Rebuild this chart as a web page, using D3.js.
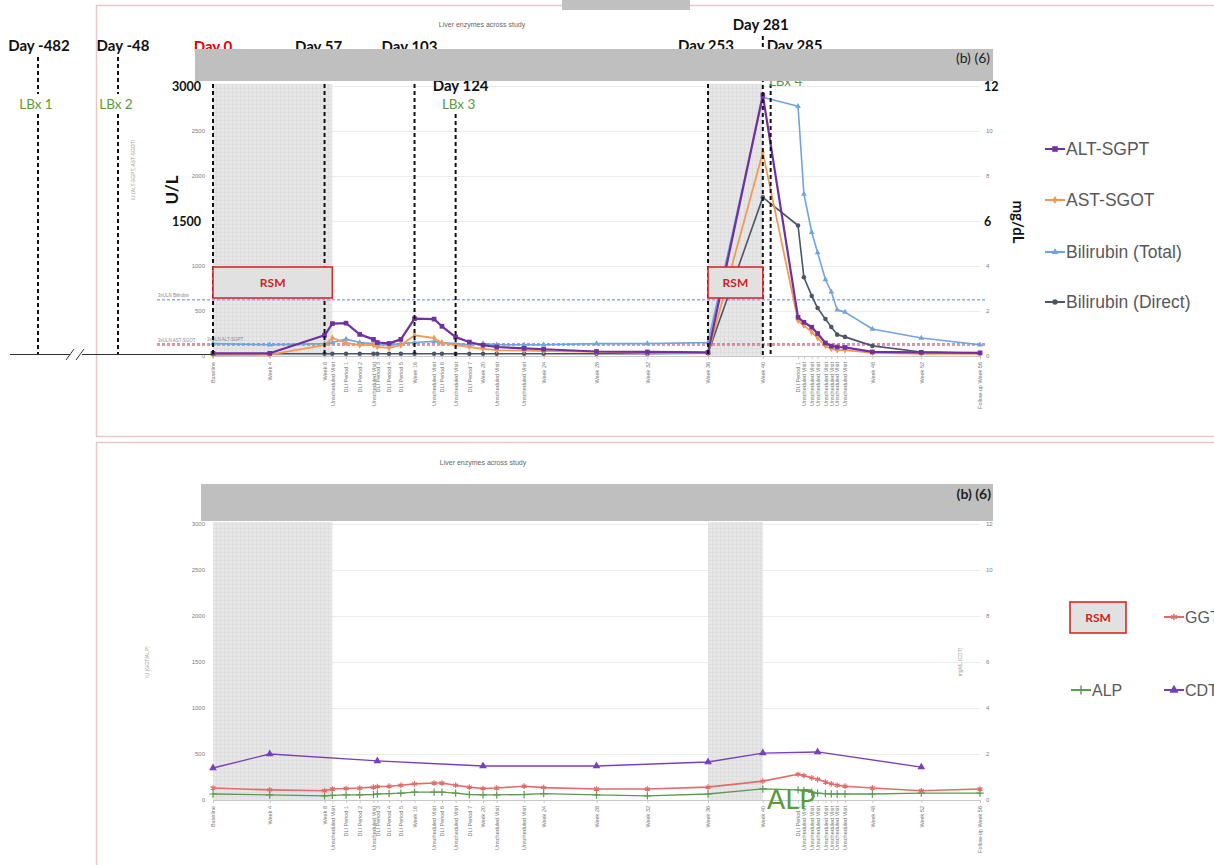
<!DOCTYPE html>
<html>
<head>
<meta charset="utf-8">
<script src="https://cdn.jsdelivr.net/npm/d3@7"></script>
<style>
  body { margin: 0; background: #fff; }
  svg { display: block; }
</style>
</head>
<body>
<svg id="chart" width="1214" height="865"></svg>
<script>
// visits on the x axis (study day of each visit)
const categories = ["Baseline", "Week 4", "Week 8", "Unscheduled Visit", "DLI Period 1", "DLI Period 2",
  "Unscheduled Visit", "DLI Period 3", "DLI Period 4", "DLI Period 5", "Week 16", "Unscheduled Visit",
  "DLI Period 6", "Unscheduled Visit", "DLI Period 7", "Week 20", "Unscheduled Visit", "Unscheduled Visit",
  "Week 24", "Week 28", "Week 32", "Week 36", "Week 40", "DLI Period 1", "Unscheduled Visit",
  "Unscheduled Visit", "Unscheduled Visit", "Unscheduled Visit", "Unscheduled Visit", "Unscheduled Visit",
  "Unscheduled Visit", "Week 48", "Week 52", "Follow-up Week 56"]
const studyDays = [0, 29, 57, 61, 68, 75, 82, 84, 90, 96, 103, 113, 117, 124, 131, 138, 145, 159,
  169, 196, 222, 253, 281, 299, 302, 306, 309, 313, 316, 319, 323, 337, 362, 392]

// top chart: U/L (left) and mg/dL (right)
const altSgpt = [30, 30, 230, 360, 365, 240, 185, 150, 140, 185, 415, 410, 330, 210, 155, 120, 100, 85,
  75, 50, 45, 40, 2900, 430, 375, 320, 250, 145, 110, 100, 95, 45, 40, 35]
const astSgot = [10, 15, 120, 200, 145, 120, 120, 100, 90, 120, 230, 200, 145, 120, 100, 80, 65, 60,
  55, 45, 35, 30, 2260, 395, 340, 265, 200, 110, 80, 65, 65, 35, 25, 25]
const biliTotal = [0.55, 0.5, 0.55, 0.6, 0.75, 0.6, 0.55, 0.5, 0.5, 0.55, 0.6, 0.65, 0.6, 0.55, 0.5,
  0.55, 0.5, 0.5, 0.5, 0.55, 0.55, 0.6, 11.5, 11.1, 7.2, 5.5, 4.6, 3.4, 2.85, 2.05, 1.95, 1.2, 0.8, 0.5]
const biliDirect = [0.1, 0.1, 0.1, 0.1, 0.1, 0.1, 0.1, 0.1, 0.1, 0.1, 0.1, 0.1, 0.1, 0.1, 0.1, 0.1,
  0.1, 0.1, 0.1, 0.1, 0.1, 0.12, 7.05, 5.8, 3.5, 2.67, 2.13, 1.64, 1.29, 0.95, 0.85, 0.45, 0.18, 0.12]

// bottom chart
const ggt = [130, 110, 100, 120, 125, 130, 140, 145, 150, 160, 175, 185, 185, 160, 140, 125, 130, 150,
  135, 120, 120, 140, 205, 280, 265, 240, 225, 195, 175, 160, 150, 130, 100, 120]
const alp = [65, 55, 45, 50, 55, 55, 60, 65, 70, 75, 85, 85, 85, 75, 60, 55, 55, 60,
  70, 55, 45, 65, 120, 110, 100, 85, 75, 70, 65, 65, 65, 65, 75, 75]
const cdt = [1.39, 2.0, null, null, null, null, null, 1.7, null, null, null, null, null, null, null, 1.48,
  null, null, null, 1.48, null, 1.65, 2.04, null, null, null, 2.09, null, null, null, null, null, 1.43, null]

const leftTicks = [0, 500, 1000, 1500, 2000, 2500, 3000]
const rightTicks = [0, 2, 4, 6, 8, 10, 12]
const rsmPeriods = [[0, 61], [253, 281]]
const refLines = [
  { label: "3xULN Bilirubin", value: 2.5, axis: "R", color: "#8fb4e3" },
  { label: "3xULN ALT-SGPT", value: 135, axis: "L", color: "#9a78c4" },
  { label: "3xULN AST-SGOT", value: 120, axis: "L", color: "#df7a7a" }
]
const studyEvents = [
  { label: "Day 0", day: 0, color: "#e00000" },
  { label: "Day 57", day: 57 },
  { label: "Day 103", day: 103 },
  { label: "Day 124", day: 124, lbx: "LBx 3" },
  { label: "Day 253", day: 253 },
  { label: "Day 281", day: 281 },
  { label: "Day 285", day: 285, lbx: "LBx 4" }
]

const svg = d3.select("#chart")
const x = d3.scaleLinear().domain([0, 392]).range([213, 980])
const yTopL = d3.scaleLinear().domain([0, 3000]).range([356, 86])
const yTopR = d3.scaleLinear().domain([0, 12]).range([356, 86])
const yBotL = d3.scaleLinear().domain([0, 3000]).range([800, 524])
const yBotR = d3.scaleLinear().domain([0, 12]).range([800, 524])
const dayLabel = new Map(studyDays.map((d, i) => [d, categories[i]]))

const SANS = "'Liberation Sans', Arial, sans-serif"
const BOLD = "Lato, 'Open Sans', sans-serif"
const green = "#5b9a3c"

// light grid hatch used for the RSM shading
const pat = svg.append("defs").append("pattern").attr("id", "hatch")
  .attr("width", 4).attr("height", 4).attr("patternUnits", "userSpaceOnUse")
pat.append("rect").attr("width", 4).attr("height", 4).attr("fill", "#e7e7e7")
pat.append("path").attr("d", "M0,0.5H4M0.5,0V4").attr("stroke", "#dadada").attr("stroke-width", 0.6)

// panel frames
svg.append("rect").attr("x", 96.5).attr("y", 5.5).attr("width", 1200).attr("height", 431)
  .attr("fill", "none").attr("stroke", "#e8c6ca").attr("stroke-width", 1.5)
svg.append("rect").attr("x", 96.5).attr("y", 442.5).attr("width", 1200).attr("height", 440)
  .attr("fill", "none").attr("stroke", "#e8c6ca").attr("stroke-width", 1.5)

function drawFrame(yL, yR) {
  const g = svg.append("g")
  const [x0, x1] = x.range()
  g.append("g").attr("transform", `translate(${x0},0)`)
    .call(d3.axisLeft(yL).tickValues(leftTicks).tickSize(-(x1 - x0)).tickFormat(""))
    .call(a => a.select(".domain").remove())
    .selectAll("line").attr("stroke", "#ebebeb")

  g.selectAll(null).data(rsmPeriods).join("rect")
    .attr("x", d => x(d[0])).attr("width", d => x(d[1]) - x(d[0]))
    .attr("y", yL(3000) - 2).attr("height", yL(0) - yL(3000) + 2)
    .attr("fill", "url(#hatch)")

  const xa = g.append("g").attr("transform", `translate(0,${yL(0)})`)
    .call(d3.axisBottom(x).tickValues(studyDays).tickSize(3).tickSizeOuter(0).tickFormat(d => dayLabel.get(d)))
  xa.select(".domain").attr("stroke", "#c8c8c8")
  xa.selectAll(".tick line").attr("stroke", "#c8c8c8")
  xa.selectAll("text").attr("transform", "rotate(-90)").attr("text-anchor", "end")
    .attr("x", -6).attr("y", 0).attr("dy", "0.32em")
    .attr("font-family", SANS).attr("font-size", 5.5).attr("fill", "#777")

  const la = g.append("g").attr("transform", `translate(${x0},0)`)
    .call(d3.axisLeft(yL).tickValues(leftTicks).tickSize(0).tickPadding(8).tickFormat(d3.format("d")))
  la.select(".domain").remove()
  la.selectAll("text").attr("font-family", SANS).attr("font-size", 6).attr("fill", "#808080")

  const ra = g.append("g").attr("transform", `translate(${x1},0)`)
    .call(d3.axisRight(yR).tickValues(rightTicks).tickSize(0).tickPadding(6).tickFormat(d3.format("d")))
  ra.select(".domain").remove()
  ra.selectAll("text").attr("font-family", SANS).attr("font-size", 6).attr("fill", "#808080")
  return { g, la, ra }
}

function drawSeries(g, values, yScale, s) {
  const pts = studyDays.map((day, i) => ({ day, v: values[i] })).filter(p => p.v != null)
  g.append("path").datum(pts)
    .attr("fill", "none").attr("stroke", s.color).attr("stroke-width", s.width)
    .attr("stroke-linejoin", "round")
    .attr("d", d3.line().x(p => x(p.day)).y(p => yScale(p.v)))
  g.selectAll(null).data(pts).join("path")
    .attr("transform", p => `translate(${x(p.day)},${yScale(p.v)})`)
    .attr("d", d3.symbol().type(s.symbol).size(s.size))
    .attr("fill", s.stroke ? "none" : s.color)
    .attr("stroke", s.stroke ? s.color : "none")
    .attr("stroke-width", 1.2)
}

function legendItem(gx, gy, s, label, fs) {
  const g = svg.append("g").attr("transform", `translate(${gx},${gy})`)
  g.append("line").attr("x1", 0).attr("x2", 20).attr("stroke", s.color).attr("stroke-width", 2)
  g.append("path").attr("transform", "translate(10,0)")
    .attr("d", d3.symbol().type(s.symbol).size(s.size * 1.4))
    .attr("fill", s.stroke ? "none" : s.color).attr("stroke", s.stroke ? s.color : "none")
    .attr("stroke-width", 1.4)
  g.append("text").attr("x", 21).attr("y", 0).attr("dy", "0.36em")
    .attr("font-family", SANS).attr("font-size", fs).attr("fill", "#595959").text(label)
}

function rsmBox(x0, x1, y0, y1) {
  svg.append("rect").attr("x", x0).attr("y", y0).attr("width", x1 - x0).attr("height", y1 - y0)
    .attr("fill", "#e1e1e1").attr("stroke", "#d42a2a").attr("stroke-width", 1.6)
  svg.append("text").attr("x", (x0 + x1) / 2).attr("y", (y0 + y1) / 2).attr("dy", "0.36em")
    .attr("text-anchor", "middle").attr("font-family", BOLD).attr("font-weight", 700)
    .attr("font-size", 12).attr("fill", "#cc1f1f").text("RSM")
}

const styles = {
  alt: { color: "#7030a0", symbol: d3.symbolSquare, size: 22, width: 2.2 },
  ast: { color: "#f29a55", symbol: d3.symbolDiamond, size: 14, width: 1.8 },
  bt: { color: "#6fa5dc", symbol: d3.symbolTriangle, size: 14, width: 1.6 },
  bd: { color: "#4b5568", symbol: d3.symbolCircle, size: 16, width: 1.6 },
  ggt: { color: "#e26b6b", symbol: d3.symbolAsterisk, size: 22, width: 1.6, stroke: true },
  alp: { color: "#5c9b4f", symbol: d3.symbolPlus, size: 20, width: 1.3, stroke: true },
  cdt: { color: "#7a3fb8", symbol: d3.symbolTriangle, size: 26, width: 1.4 }
}

// ================= TOP CHART =================
svg.append("rect").attr("x", 562).attr("y", 0).attr("width", 128).attr("height", 10).attr("fill", "#c0c0c0")
svg.append("text").attr("x", 482).attr("y", 27).attr("text-anchor", "middle")
  .attr("font-family", SANS).attr("font-size", 7).attr("fill", "#666").text("Liver enzymes across study")

const topF = drawFrame(yTopL, yTopR)
// bold overlay ticks
topF.la.selectAll(".tick").filter(d => d === 3000 || d === 1500).select("text")
  .attr("font-family", BOLD).attr("font-weight", 700).attr("font-size", 12.5).attr("fill", "#111").attr("x", -12)
topF.ra.selectAll(".tick").filter(d => d === 12 || d === 6).select("text")
  .attr("font-family", BOLD).attr("font-weight", 700).attr("font-size", 12.5).attr("fill", "#111").attr("x", 4)

// 3xULN reference lines
refLines.forEach((r, i) => {
  const yy = r.axis === "R" ? yTopR(r.value) : yTopL(r.value)
  svg.append("line").attr("x1", 157).attr("x2", 986).attr("y1", yy).attr("y2", yy)
    .attr("stroke", r.color).attr("stroke-width", 1.3).attr("stroke-dasharray", "3,2")
  svg.append("text").attr("x", i === 1 ? 207 : 158).attr("y", yy - 3)
    .attr("font-family", SANS).attr("font-size", 4.5).attr("fill", "#888").text(r.label)
})

const topG = svg.append("g")
drawSeries(topG, biliDirect, yTopR, styles.bd)
drawSeries(topG, biliTotal, yTopR, styles.bt)
drawSeries(topG, astSgot, yTopL, styles.ast)
drawSeries(topG, altSgpt, yTopL, styles.alt)

// axis titles
svg.append("text").attr("transform", "translate(178,190) rotate(-90)").attr("text-anchor", "middle")
  .attr("font-family", BOLD).attr("font-weight", 700).attr("font-size", 17).attr("fill", "#111").text("U/L")
svg.append("text").attr("transform", "translate(135,170) rotate(-90)").attr("text-anchor", "middle")
  .attr("font-family", SANS).attr("font-size", 5).attr("fill", "#999").text("IU (ALT-SGPT, AST-SGOT)")
svg.append("text").attr("transform", "translate(1013,222) rotate(90)").attr("text-anchor", "middle")
  .attr("font-family", BOLD).attr("font-weight", 700).attr("font-size", 15).attr("fill", "#111").text("mg/dL")

// broken axis to pre-study biopsies
svg.append("line").attr("x1", 10).attr("x2", 213).attr("y1", 354.5).attr("y2", 354.5)
  .attr("stroke", "#333").attr("stroke-width", 1)
svg.append("rect").attr("x", 70).attr("y", 349).attr("width", 12).attr("height", 11).attr("fill", "#fff")
svg.append("path").attr("d", "M66,360L74,349M76,360L84,349").attr("stroke", "#333").attr("stroke-width", 1)

// dashed event lines
const dash = (x0, y0, y1) => svg.append("line").attr("x1", x0).attr("x2", x0).attr("y1", y0).attr("y2", y1)
  .attr("stroke", "#111").attr("stroke-width", 2).attr("stroke-dasharray", "4,3")
dash(38, 57, 94); dash(38, 114, 354)
dash(118, 57, 94); dash(118, 114, 354)
studyEvents.forEach(e => {
  const xx = x(e.day)
  if (e.label === "Day 124") dash(xx, 114, 356)
  else if (e.label === "Day 281") dash(xx, 36, 356)
  else dash(xx, 56, 356)
})

rsmBox(x(rsmPeriods[0][0]), x(rsmPeriods[0][1]), 267, 298)
rsmBox(x(rsmPeriods[1][0]), x(rsmPeriods[1][1]), 267, 298)

const dayText = (tx, ty, t, color, anchor) => svg.append("text").attr("x", tx).attr("y", ty)
  .attr("text-anchor", anchor || "middle").attr("font-family", BOLD).attr("font-weight", 700)
  .attr("font-size", 15).attr("fill", color || "#111").text(t)
const lbxText = (tx, ty, t) => svg.append("text").attr("x", tx).attr("y", ty).attr("text-anchor", "middle")
  .attr("font-family", BOLD).attr("font-size", 13.5).attr("fill", green).text(t)

dayText(39, 51, "Day -482")
dayText(123, 51, "Day -48")
lbxText(36, 109, "LBx 1")
lbxText(116, 109, "LBx 2")
dayText(x(0), 52, "Day 0", "#e00000")
dayText(x(57) - 6, 52, "Day 57")
dayText(x(103) - 5, 52, "Day 103")
dayText(x(124) + 5, 91, "Day 124")
lbxText(x(124) + 3, 109, "LBx 3")
dayText(x(253) - 2, 51, "Day 253")
dayText(x(281) - 2, 30, "Day 281")
dayText(x(285) - 4, 51, "Day 285", null, "start")
lbxText(x(285) + 15, 86, "LBx 4")

// redaction bar
svg.append("rect").attr("x", 195).attr("y", 49).attr("width", 798).attr("height", 32).attr("fill", "#bfbfbf")
svg.append("text").attr("x", 990).attr("y", 63).attr("text-anchor", "end")
  .attr("font-family", BOLD).attr("font-size", 14).attr("fill", "#222").text("(b) (6)")

legendItem(1045, 149, styles.alt, "ALT-SGPT", 17.5)
legendItem(1045, 200, styles.ast, "AST-SGOT", 17.5)
legendItem(1045, 252, styles.bt, "Bilirubin (Total)", 17.5)
legendItem(1045, 302, styles.bd, "Bilirubin (Direct)", 17.5)

// ================= BOTTOM CHART =================
svg.append("text").attr("x", 483).attr("y", 465).attr("text-anchor", "middle")
  .attr("font-family", SANS).attr("font-size", 7).attr("fill", "#666").text("Liver enzymes across study")
drawFrame(yBotL, yBotR)
svg.append("rect").attr("x", 201).attr("y", 484).attr("width", 792).attr("height", 37).attr("fill", "#bfbfbf")
svg.append("text").attr("x", 991).attr("y", 499).attr("text-anchor", "end")
  .attr("font-family", BOLD).attr("font-weight", 700).attr("font-size", 14).attr("fill", "#222").text("(b) (6)")

svg.append("text").attr("transform", "translate(149,662) rotate(-90)").attr("text-anchor", "middle")
  .attr("font-family", SANS).attr("font-size", 5).attr("fill", "#999").text("IU (GGT/ALP)")
svg.append("text").attr("transform", "translate(962,662) rotate(-90)").attr("text-anchor", "middle")
  .attr("font-family", SANS).attr("font-size", 5).attr("fill", "#999").text("mg/dL (CDT)")

const botG = svg.append("g")
drawSeries(botG, alp, yBotL, styles.alp)
drawSeries(botG, ggt, yBotL, styles.ggt)
drawSeries(botG, cdt, yBotR, styles.cdt)

svg.append("text").attr("x", 767).attr("y", 809).attr("font-family", BOLD).attr("font-size", 27)
  .attr("fill", green).text("ALP")

rsmBox(1070, 1126, 602, 633)
legendItem(1164, 617, styles.ggt, "GGT", 16)
legendItem(1071, 690, styles.alp, "ALP", 16)
legendItem(1164, 690, styles.cdt, "CDT", 16)
</script>
</body>
</html>
